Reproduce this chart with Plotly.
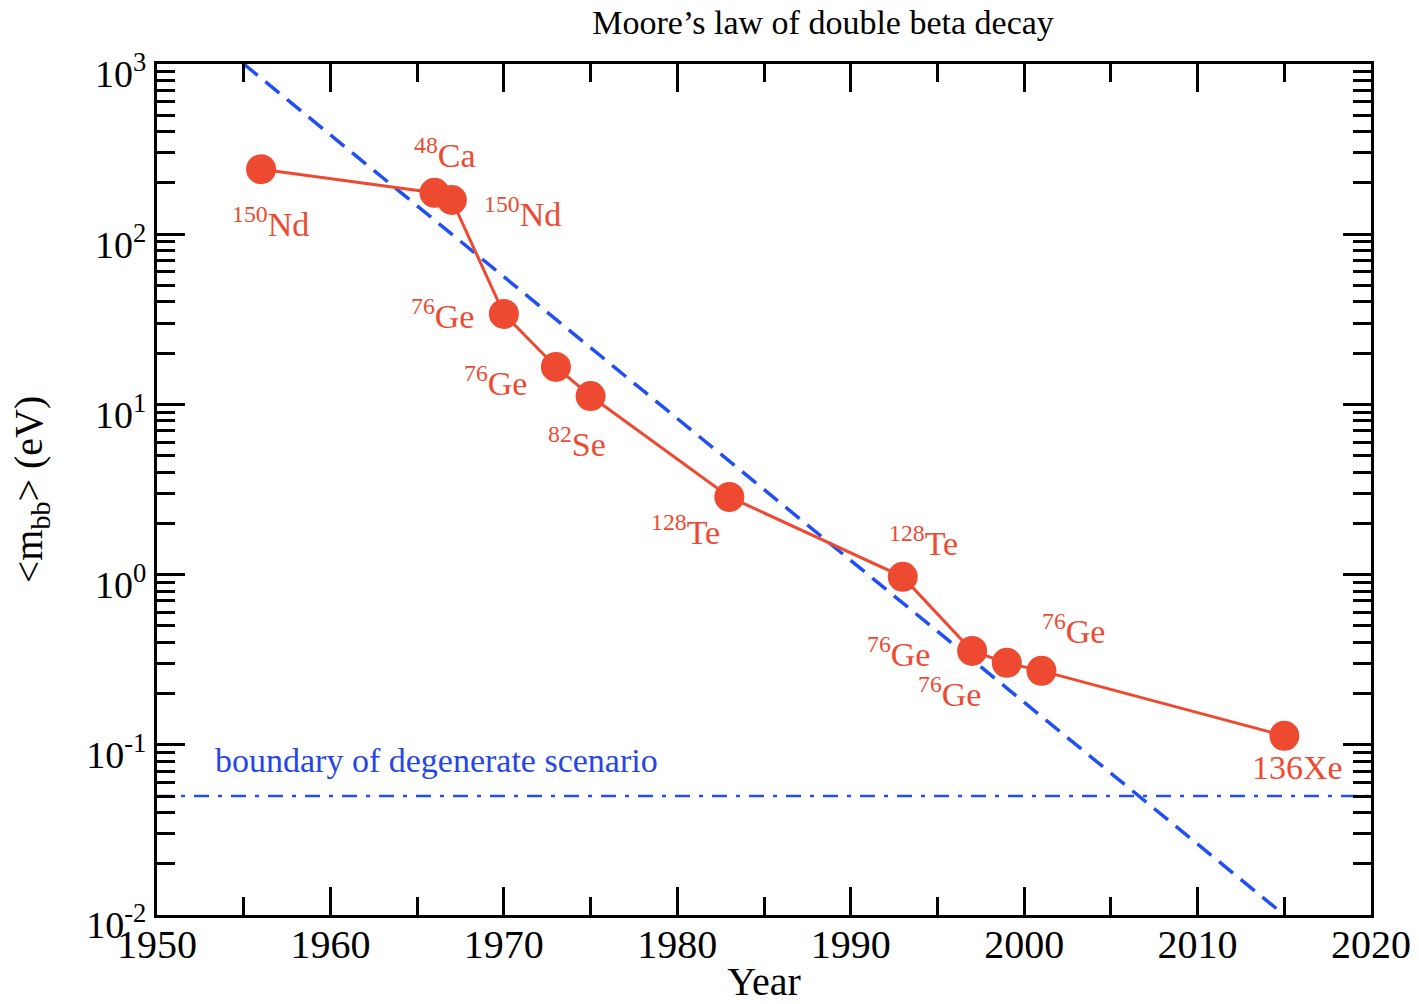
import math
import plotly.graph_objects as go

# ---- data ----
years = [1956, 1966, 1967, 1970, 1973, 1975, 1983, 1993, 1997, 1999, 2001, 2015]
mbb_ev = [241, 175, 159, 34, 16.6, 11.2, 2.86, 0.97, 0.356, 0.303, 0.272, 0.113]
isotopes = ["<sup>150</sup>Nd", "<sup>48</sup>Ca", "<sup>150</sup>Nd", "<sup>76</sup>Ge",
            "<sup>76</sup>Ge", "<sup>82</sup>Se", "<sup>128</sup>Te", "<sup>128</sup>Te",
            "<sup>76</sup>Ge", "<sup>76</sup>Ge", "<sup>76</sup>Ge", "136Xe"]
trend_years = [1955, 2015]
trend_mbb = [1000, 0.01]
boundary_years = [1950, 2020]
boundary_mbb = [0.05, 0.05]
boundary_label = "boundary of degenerate scenario"
boundary_label_year = 1953.2
boundary_label_mbb = 0.1
y_tick_vals = [0.01, 0.1, 1, 10, 100, 1000]
y_tick_text = ["10<sup>-2</sup>", "10<sup>-1</sup>", "10<sup>0</sup>", "10<sup>1</sup>",
               "10<sup>2</sup>", "10<sup>3</sup>"]
y_minor_vals = [k * 10 ** e for e in range(-2, 3) for k in range(2, 10)]

# ---- styles ----
RED = "#ee4a32"
BLUE = "#2050f5"
FONT = "Liberation Serif"
label_shifts = [(9, -53), (11, 40), (71, -12), (-61, 0), (-60, -14), (-14, -46),
                (-44, -33), (21, 36), (-74, -1), (-57, -29), (32, 42), (13, -32)]

fig = go.Figure()
fig.add_trace(go.Scatter(x=trend_years, y=trend_mbb, mode="lines",
                         line=dict(color=BLUE, width=3.5, dash="18px,10px"),
                         hoverinfo="skip", showlegend=False))
fig.add_trace(go.Scatter(x=boundary_years, y=boundary_mbb, mode="lines",
                         line=dict(color=BLUE, width=2.5, dash="15px,9px,4px,9px"),
                         hoverinfo="skip", showlegend=False))
fig.add_trace(go.Scatter(x=years, y=mbb_ev, mode="lines+markers",
                         line=dict(color=RED, width=3),
                         marker=dict(color=RED, size=30, line=dict(width=0)),
                         showlegend=False))

for yr, m, lab, (dx, dy) in zip(years, mbb_ev, isotopes, label_shifts):
    fig.add_annotation(x=yr, y=math.log10(m), text=lab, showarrow=False,
                       xshift=dx, yshift=dy, xanchor="center", yanchor="middle",
                       font=dict(family=FONT, size=34, color=RED))

fig.add_annotation(x=boundary_label_year, y=math.log10(boundary_label_mbb),
                   text=boundary_label, showarrow=False, xanchor="left", yanchor="middle",
                   yshift=-16, font=dict(family=FONT, size=34, color="#2446e8"))

axis_common = dict(showline=True, linecolor="black", linewidth=3, mirror="allticks",
                   ticks="inside", tickcolor="black", tickwidth=3, ticklen=28,
                   showgrid=False, zeroline=False, automargin=False)

fig.update_xaxes(range=[1950, 2020], tickmode="linear", tick0=1950, dtick=10,
                 tickfont=dict(family=FONT, size=40, color="black"),
                 ticklabelstandoff=-8,
                 minor=dict(ticks="inside", ticklen=18, tickwidth=3, tickcolor="black",
                            tickmode="linear", tick0=1950, dtick=5),
                 title=dict(text="Year", font=dict(family=FONT, size=40, color="black"),
                            standoff=17),
                 **axis_common)
fig.update_yaxes(type="log", range=[-2, 3], tickmode="array", tickvals=y_tick_vals,
                 ticktext=y_tick_text, ticklabelshift=10,
                 tickfont=dict(family=FONT, size=38, color="black"),
                 minor=dict(ticks="inside", ticklen=18, tickwidth=3, tickcolor="black",
                            tickmode="array", tickvals=y_minor_vals),
                 title=dict(text="&lt;m<sub>bb</sub>&gt; (eV)",
                            font=dict(family=FONT, size=40, color="black"), standoff=32),
                 **axis_common)

fig.update_layout(
    width=1419, height=1004,
    margin=dict(l=157, r=48, t=64, b=89),
    paper_bgcolor="white", plot_bgcolor="white",
    title=dict(text="Moore’s law of double beta decay", xref="container", x=823 / 1419,
               xanchor="center", y=1 - 22 / 1004, yanchor="middle",
               font=dict(family=FONT, size=34, color="black")),
    font=dict(family=FONT),
)

fig.write_html("out.html")
